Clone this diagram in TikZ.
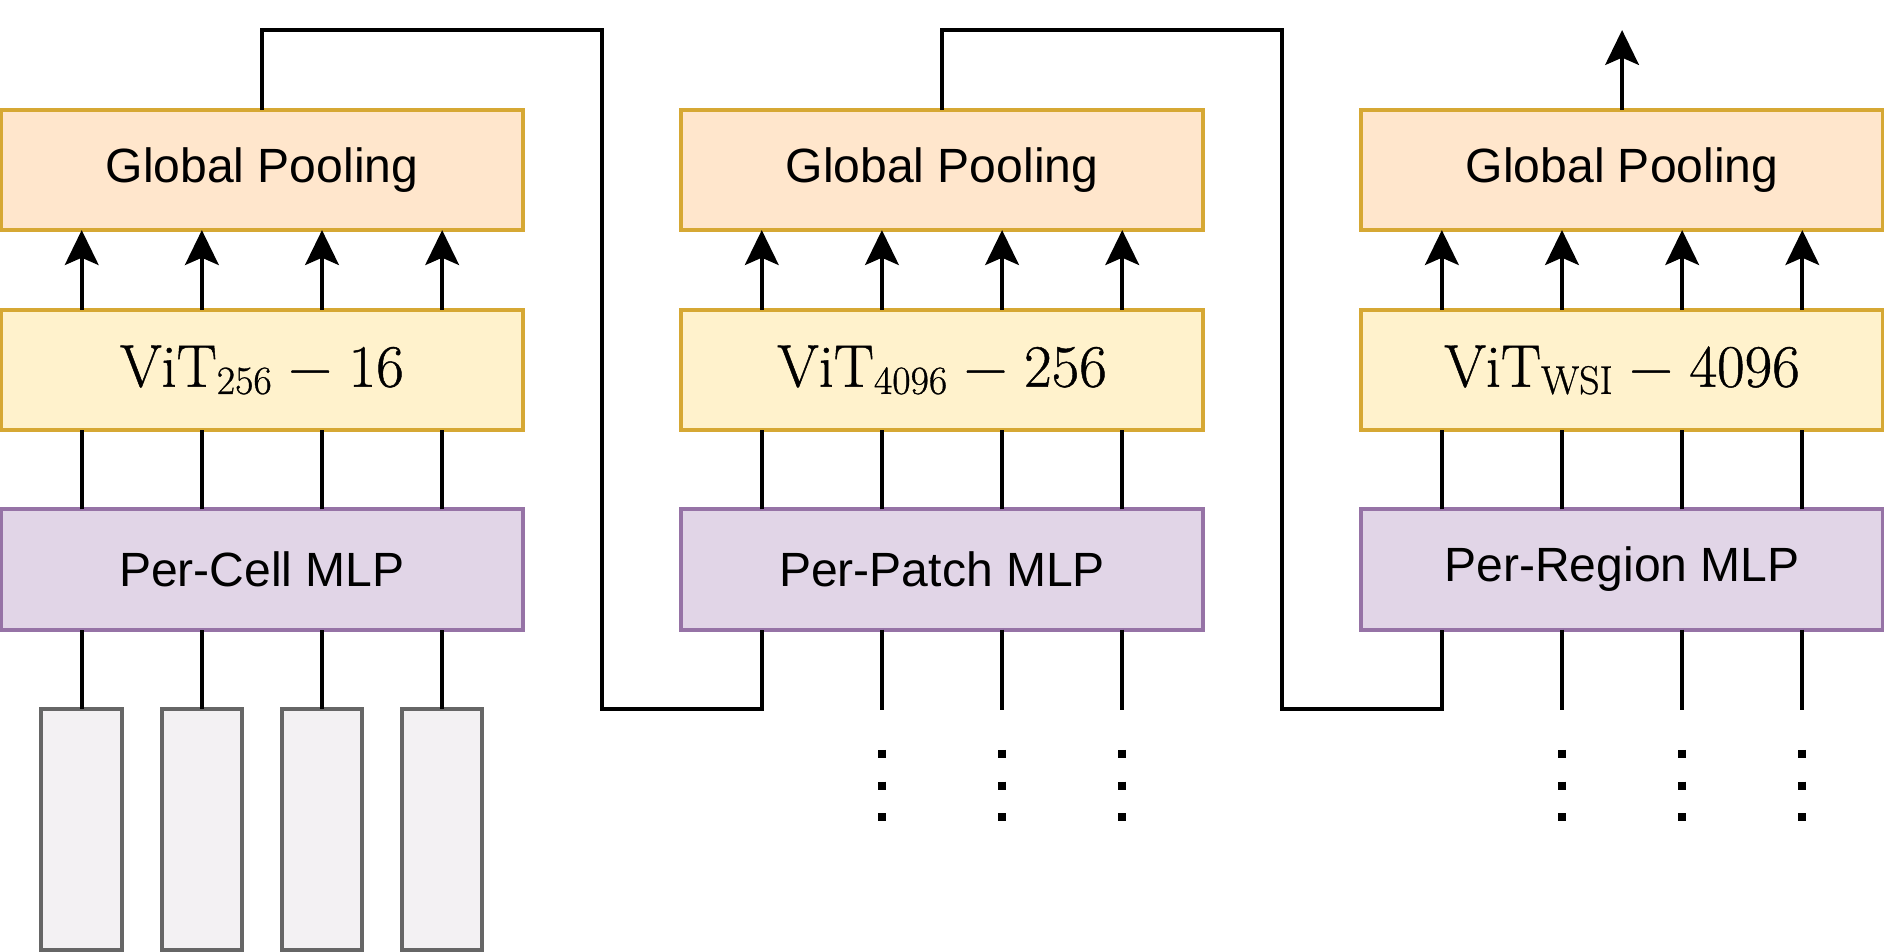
\documentclass[tikz,border=0pt]{standalone}
\usepackage{fontspec}
\newfontfamily\arial{Liberation Sans}
\newfontfamily\lmr[FakeBold=0.8]{Latin Modern Roman}
\usetikzlibrary{arrows.meta}
\definecolor{gpfill}{HTML}{FFE6CC}
\definecolor{vitfill}{HTML}{FFF2CC}
\definecolor{goldline}{HTML}{D6A834}
\definecolor{mlpfill}{HTML}{E1D5E7}
\definecolor{mlpline}{HTML}{9673A6}
\definecolor{cellfill}{HTML}{F3F1F3}
\definecolor{cellline}{HTML}{666666}
\newcommand{\vitlabel}[2]{ViT\raisebox{-3pt}{\fontsize{16.6}{18}\selectfont #1}\hspace{7pt}−\hspace{7pt}#2}
\tikzset{
  box/.style={draw, line width=1.65pt, minimum width=217pt, minimum height=50pt, inner sep=0pt, outer sep=0pt},
  gpbox/.style={box, fill=gpfill, draw=goldline, font=\arial\fontsize{20}{24}\selectfont},
  vitbox/.style={box, fill=vitfill, draw=goldline, font=\lmr\fontsize{25}{29}\selectfont},
  mlpbox/.style={box, fill=mlpfill, draw=mlpline, font=\arial\fontsize{20}{24}\selectfont},
  cellbox/.style={draw=cellline, fill=cellfill, line width=1.65pt, minimum width=33.5pt, minimum height=100.5pt, inner sep=0pt, outer sep=0pt},
  ln/.style={line width=1.65pt, black},
  arr/.style={ln, -{Stealth[length=14.5pt, width=14pt, inset=3pt]}},
  dots/.style={line width=3.35pt, dash pattern=on 3.35pt off 9.9pt},
}
\begin{document}
\begin{tikzpicture}[x=0.5pt, y=-0.5pt]
\useasboundingbox (0,0) rectangle (1568,792);
% columns
\node[gpbox]  (gp1)  at (218,141.5) {Global Pooling};
\node[vitbox] (vit1) at (218,308) {\vitlabel{256}{16}};
\node[mlpbox] (mlp1) at (218,474) {Per-Cell MLP};
\node[gpbox]  (gp2)  at (784,141.5) {Global Pooling};
\node[vitbox] (vit2) at (784,308) {\vitlabel{4096}{256}};
\node[mlpbox] (mlp2) at (784,474) {Per-Patch MLP};
\node[gpbox]  (gp3)  at (1350,141.5) {Global Pooling};
\node[vitbox] (vit3) at (1350,308) {\vitlabel{WSI}{4096}};
\node[mlpbox] (mlp3) at (1350,474) {Per-Region MLP};
% cells
\foreach \i in {0,...,3} {
  \node[cellbox] (cell\i) at (68+100*\i,690.5) {};
  \draw[ln] (cell\i.north) -- ([xshift={(67+100*\i)*0.5pt}]mlp1.south west);
}
% inner connections
\foreach \c in {1,2,3} {
  \foreach \i in {0,...,3} {
    \draw[arr] ([xshift={(67+100*\i)*0.5pt}]vit\c.north west) -- ([xshift={(67+100*\i)*0.5pt}]gp\c.south west);
    \draw[ln] ([xshift={(67+100*\i)*0.5pt}]mlp\c.north west) -- ([xshift={(67+100*\i)*0.5pt}]vit\c.south west);
  }
}
% lower inputs with dots
\foreach \c in {2,3} {
  \foreach \i in {1,2,3} {
    \coordinate (e\c\i) at ([xshift={(67+100*\i)*0.5pt}, yshift={-66.5*0.5pt}]mlp\c.south west);
    \draw[ln] ([xshift={(67+100*\i)*0.5pt}]mlp\c.south west) -- (e\c\i);
    \draw[dots] ([yshift={-33.5*0.5pt}]e\c\i) -- ([yshift={-94*0.5pt}]e\c\i);
  }
}
% level connectors
\coordinate (r1) at (501,25);
\coordinate (b1) at (634,590);
\draw[ln] (gp1.north) |- (r1) |- (b1) -- ([xshift={67*0.5pt}]mlp2.south west);
\coordinate (r2) at (1067,25);
\coordinate (b2) at (1200,590);
\draw[ln] (gp2.north) |- (r2) |- (b2) -- ([xshift={67*0.5pt}]mlp3.south west);
% output
\coordinate (out) at (1350,25);
\draw[arr] (gp3.north) -- (out);
\end{tikzpicture}
\end{document}
